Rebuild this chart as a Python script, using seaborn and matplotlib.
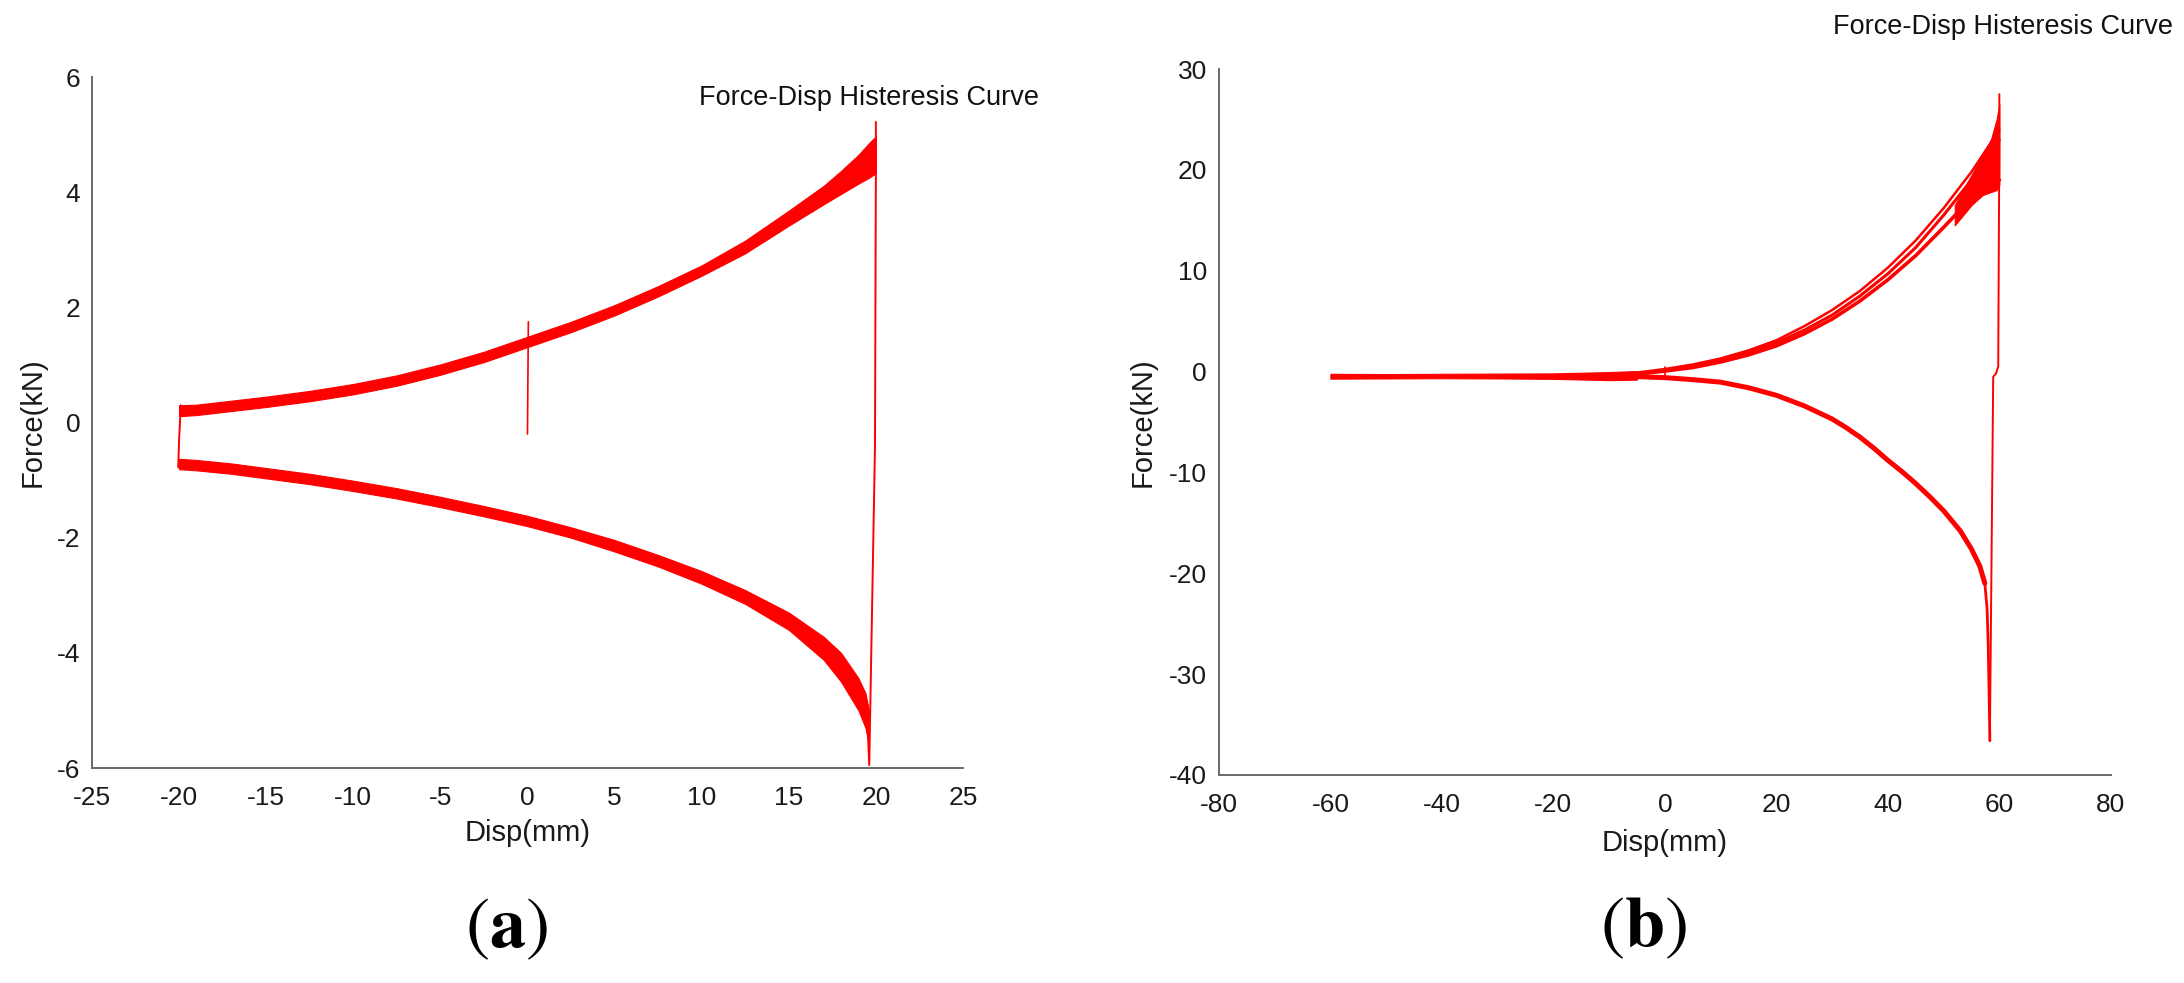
import numpy as np
import pandas as pd
import matplotlib
matplotlib.use("Agg")
import matplotlib.pyplot as plt
import seaborn as sns

# ---------------- data ----------------
# Panel (a): upper (loading) branch band
a_up_x = [-20, -19, -17, -15, -12.5, -10, -7.5, -5, -2.5, 0, 2.5, 5, 7.5, 10, 12.5, 15, 17, 18, 19, 19.6, 20]
a_up_lo = [0.11, 0.13, 0.20, 0.27, 0.37, 0.49, 0.64, 0.83, 1.05, 1.31, 1.57, 1.86, 2.19, 2.55, 2.94, 3.42, 3.79, 3.97, 4.15, 4.25, 4.33]
a_up_hi = [0.30, 0.31, 0.38, 0.45, 0.55, 0.67, 0.82, 1.01, 1.23, 1.49, 1.75, 2.04, 2.37, 2.73, 3.16, 3.68, 4.11, 4.37, 4.65, 4.85, 4.97]
# Panel (a): lower (unloading) branch band
a_lo_x = [-20, -19, -17, -15, -12.5, -10, -7.5, -5, -2.5, 0, 2.5, 5, 7.5, 10, 12.5, 15, 17, 18, 19, 19.4, 19.6]
a_lo_lo = [-0.81, -0.83, -0.89, -0.97, -1.07, -1.19, -1.32, -1.47, -1.63, -1.80, -2.00, -2.24, -2.50, -2.80, -3.15, -3.60, -4.12, -4.50, -5.00, -5.30, -5.60]
a_lo_hi = [-0.63, -0.65, -0.71, -0.79, -0.89, -1.01, -1.14, -1.29, -1.45, -1.62, -1.82, -2.04, -2.30, -2.58, -2.91, -3.30, -3.72, -4.00, -4.44, -4.70, -5.00]
# Panel (a): reversal lines and start spike
a_right_x = [19.5, 19.62, 19.95, 20.0, 20.0]
a_right_y = [-5.1, -5.95, -0.4, 4.4, 5.22]
a_left_x = [-20.05, -20.0, -19.9]
a_left_y = [-0.78, -0.3, 0.3]
a_spike_x = [0.0, 0.05]
a_spike_y = [-0.2, 1.75]

# Panel (b): flat part of the loop (band)
b_flat_x = [-60, -50, -40, -30, -20, -10, -5]
b_flat_lo = [-0.70, -0.68, -0.66, -0.68, -0.72, -0.85, -0.80]
b_flat_hi = [-0.22, -0.25, -0.22, -0.20, -0.18, -0.05, 0.05]
# Panel (b): loading strands
b_up_x = [-10, -5, 0, 5, 10, 15, 20, 25, 30, 35, 40, 45, 50, 55, 58, 60]
b_up1 = [-0.3, -0.1, 0.25, 0.7, 1.3, 2.1, 3.1, 4.5, 6.1, 8.0, 10.3, 13.0, 16.2, 19.8, 22.3, 24.0]
b_up2 = [-0.35, -0.2, 0.15, 0.55, 1.15, 1.9, 2.85, 4.1, 5.6, 7.5, 9.7, 12.3, 15.5, 19.0, 21.3, 23.0]
b_up3 = [-0.4, -0.25, 0.05, 0.4, 0.95, 1.65, 2.55, 3.75, 5.2, 7.0, 9.1, 11.5, 14.3, 17.2, 18.5, 19.0]
# Panel (b): noisy end of the loading branch
b_noise_x = [52, 55, 57, 58.5, 59.5, 60]
b_noise_lo = [14.5, 16.5, 17.5, 17.8, 18.0, 18.5]
b_noise_hi = [16.5, 19.5, 21.5, 23.0, 25.0, 26.5]
# Panel (b): unloading branch
b_lo_x = [-10, -5, 0, 5, 10, 15, 20, 25, 30, 32.5, 35, 37.5, 40, 42.5, 45, 47.5, 50, 53, 55, 56.5, 57.4]
b_lo_y = [-0.45, -0.5, -0.6, -0.8, -1.05, -1.6, -2.35, -3.4, -4.7, -5.55, -6.5, -7.6, -8.8, -9.9, -11.1, -12.4, -13.8, -15.8, -17.6, -19.3, -21.0]
# Panel (b): sharp tip of the unloading branch
b_tip_x = [57.0, 57.4, 57.8, 58.0, 58.2, 58.3]
b_tip_y = [-20.2, -21.0, -23.5, -27.0, -33.0, -36.6]
# Panel (b): reversal line and start spike
b_trans_x = [58.3, 58.9, 59.4, 59.8, 60.0, 60.0]
b_trans_y = [-36.6, -0.5, -0.2, 0.5, 23.0, 27.5]
b_spike_x = [0.0, 0.0]
b_spike_y = [-0.6, 0.5]

a_xticks = [-25, -20, -15, -10, -5, 0, 5, 10, 15, 20, 25]
a_yticks = [-6, -4, -2, 0, 2, 4, 6]
b_xticks = [-80, -60, -40, -20, 0, 20, 40, 60, 80]
b_yticks = [-40, -30, -20, -10, 0, 10, 20, 30]

title_text = "Force-Disp Histeresis Curve"
xlabel_text = "Disp(mm)"
ylabel_text = "Force(kN)"

# ---------------- style ----------------
sns.set_theme(style="white")
plt.rcParams['font.family'] = ['Liberation Sans', 'DejaVu Sans']
plt.rcParams['mathtext.fontset'] = 'stix'
RED = "#ff0000"
AXC = "#6a6a6a"
FS_TICK = 19
FS_LAB = 21
FS_TITLE = 19.5

fig = plt.figure(figsize=(21.84, 9.83), dpi=100)
ax_a = fig.add_axes([0.04212, 0.2187, 0.3988, 0.7029])
ax_b = fig.add_axes([0.5581, 0.2116, 0.4084, 0.7182])


def line(ax, xs, ys, lw):
    df = pd.DataFrame({"x": xs, "y": ys})
    sns.lineplot(data=df, x="x", y="y", ax=ax, sort=False, estimator=None,
                 color=RED, lw=lw)


# panel (a)
ax_a.fill_between(a_up_x, a_up_lo, a_up_hi, color=RED, lw=0.8, edgecolor=RED)
ax_a.fill_between(a_lo_x, a_lo_lo, a_lo_hi, color=RED, lw=0.8, edgecolor=RED)
line(ax_a, a_right_x, a_right_y, 1.4)
line(ax_a, a_left_x, a_left_y, 1.4)
line(ax_a, a_spike_x, a_spike_y, 1.2)

# panel (b)
ax_b.fill_between(b_flat_x, b_flat_lo, b_flat_hi, color=RED, lw=0.8, edgecolor=RED)
line(ax_b, b_up_x, b_up1, 1.8)
line(ax_b, b_up_x, b_up2, 2.2)
line(ax_b, b_up_x, b_up3, 2.6)
ax_b.fill_between(b_noise_x, b_noise_lo, b_noise_hi, color=RED, lw=0.8, edgecolor=RED)
line(ax_b, b_lo_x, b_lo_y, 3.6)
line(ax_b, b_tip_x, b_tip_y, 2.0)
line(ax_b, b_trans_x, b_trans_y, 1.4)
line(ax_b, b_spike_x, b_spike_y, 1.2)


def style(ax, xlim, ylim, xt, yt, ylab_x, xlab_y):
    ax.set_xlim(*xlim)
    ax.set_ylim(*ylim)
    ax.set_xticks(xt)
    ax.set_yticks(yt)
    ax.set_xticklabels([str(v) for v in xt])
    ax.set_yticklabels([str(v) for v in yt])
    for s in ("top", "right"):
        ax.spines[s].set_visible(False)
    for s in ("left", "bottom"):
        ax.spines[s].set_color(AXC)
        ax.spines[s].set_linewidth(1.4)
    ax.tick_params(axis="both", direction="in", length=6.7, width=1.2,
                   color=AXC, labelsize=FS_TICK, labelcolor="#1a1a1a")
    ax.tick_params(axis="x", pad=13)
    ax.tick_params(axis="y", pad=8.5)
    ax.set_xlabel(xlabel_text, fontsize=FS_LAB, color="#1a1a1a")
    ax.set_ylabel(ylabel_text, fontsize=FS_LAB, color="#1a1a1a")
    ax.xaxis.set_label_coords(0.5, xlab_y)
    ax.yaxis.set_label_coords(ylab_x, 0.5)
    ax.set_facecolor("white")


style(ax_a, (-25, 25), (-6, 6), a_xticks, a_yticks, -0.052, -0.074)
style(ax_b, (-80, 80), (-40, 30), b_xticks, b_yticks, -0.070, -0.0765)

# titles placed like the original figure
fig.text(869 / 2184, 1 - 98 / 983, title_text, fontsize=FS_TITLE, ha="center", va="center", color="#111111")
fig.text(2003 / 2184, 1 - 27 / 983, title_text, fontsize=FS_TITLE, ha="center", va="center", color="#111111")

# panel letters
fig.text(506 / 2184, 1 - 929 / 983, r"$(\mathbf{a})$", fontsize=52, ha="center", va="center", color="black")
fig.text(1643 / 2184, 1 - 928 / 983, r"$(\mathbf{b})$", fontsize=52, ha="center", va="center", color="black")

fig.savefig("out.png", dpi=100, facecolor="white")
